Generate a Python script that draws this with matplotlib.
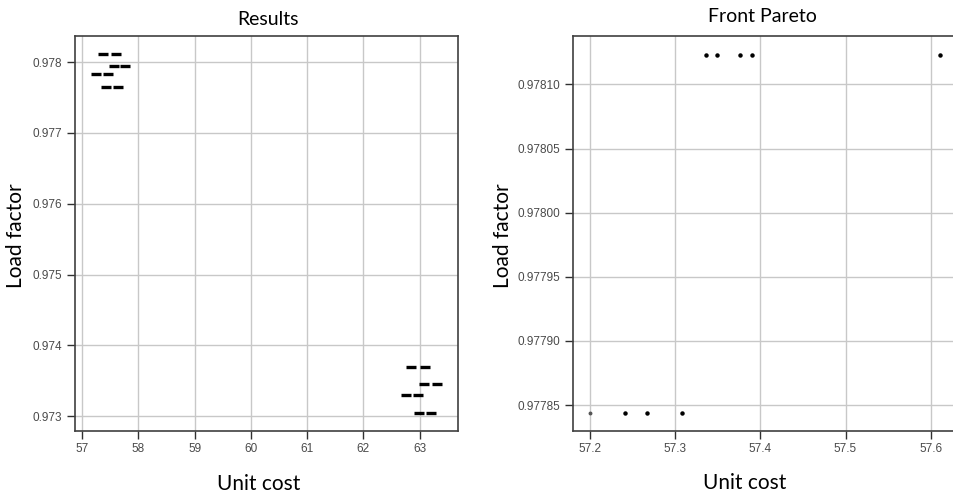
import matplotlib
matplotlib.use('Agg')
import matplotlib.pyplot as plt
from matplotlib.ticker import FormatStrFormatter

# all evaluated solutions (left panel)
results_cost = [57.38, 57.60, 57.56, 57.77, 57.25, 57.46, 57.43, 57.64,
                62.84, 63.09, 63.08, 63.31, 62.75, 62.97, 62.99, 63.20]
results_load = [0.97811, 0.97811, 0.977944, 0.977944, 0.97783, 0.97783, 0.97765, 0.97765,
                0.97369, 0.97369, 0.97345, 0.97345, 0.97330, 0.97330, 0.97304, 0.97304]

# pareto front (right panel)
front_cost = [57.336, 57.349, 57.376, 57.390, 57.611, 57.241, 57.267, 57.308]
front_load = [0.978123, 0.978123, 0.978123, 0.978123, 0.978123, 0.977844, 0.977844, 0.977844]
front_edge_cost = [57.200]
front_edge_load = [0.977844]

left_xticks = [57, 58, 59, 60, 61, 62, 63]
left_yticks = [0.973, 0.974, 0.975, 0.976, 0.977, 0.978]
right_xticks = [57.2, 57.3, 57.4, 57.5, 57.6]
right_yticks = [0.97785, 0.97790, 0.97795, 0.97800, 0.97805, 0.97810]

W, H = 954, 496
fig = plt.figure(figsize=(W / 100, H / 100), dpi=100)

tick_font = 'Liberation Sans'
label_font = 'Lato'
grid_color = '#c8c8c8'
spine_color = '#404040'


def style_axes(ax):
    ax.grid(True, color=grid_color, linewidth=1.0)
    ax.set_axisbelow(True)
    for s in ax.spines.values():
        s.set_color(spine_color)
        s.set_linewidth(1.2)
    ax.tick_params(direction='out', length=6, width=1, color='#303030',
                   labelsize=8.5, labelcolor='#4a4a4a', pad=3)
    for lbl in ax.get_xticklabels() + ax.get_yticklabels():
        lbl.set_fontfamily(tick_font)


ax1 = fig.add_axes([75 / W, 1 - 431 / H, (458 - 75) / W, (431 - 36) / H])
ax1.plot(results_cost, results_load, linestyle='none', marker='_',
         markersize=7.5, markeredgewidth=2.4, color='black')
ax1.set_xlim(56.876, 63.68)
ax1.set_ylim(0.97279, 0.97837)
ax1.set_xticks(left_xticks)
ax1.set_yticks(left_yticks)
ax1.yaxis.set_major_formatter(FormatStrFormatter('%.3f'))
style_axes(ax1)

ax2 = fig.add_axes([573 / W, 1 - 430.7 / H, (956 - 573) / W, (430.7 - 35.7) / H])
ax2.plot(front_cost, front_load, linestyle='none', marker='o',
         markersize=2.2, color='black')
ax2.plot(front_edge_cost, front_edge_load, linestyle='none', marker='o',
         markersize=1.8, color='#555555')
ax2.set_xlim(57.1798, 57.6298)
ax2.set_ylim(0.977830, 0.978138)
ax2.set_xticks(right_xticks)
ax2.set_yticks(right_yticks)
ax2.xaxis.set_major_formatter(FormatStrFormatter('%.1f'))
ax2.yaxis.set_major_formatter(FormatStrFormatter('%.5f'))
style_axes(ax2)
ax2.spines['right'].set_visible(False)

fig.text(268 / W, 1 - 25 / H, 'Results', ha='center', va='baseline',
         fontsize=14, family=label_font)
fig.text(762 / W, 1 - 22 / H, 'Front Pareto', ha='center', va='baseline',
         fontsize=14, family=label_font)
fig.text(259 / W, 1 - 490 / H, 'Unit cost', ha='center', va='baseline',
         fontsize=15, family=label_font)
fig.text(745 / W, 1 - 489 / H, 'Unit cost', ha='center', va='baseline',
         fontsize=15, family=label_font)
fig.text(16 / W, 1 - 236 / H, 'Load factor', ha='center', va='center',
         rotation=90, fontsize=15, family=label_font)
fig.text(503 / W, 1 - 236 / H, 'Load factor', ha='center', va='center',
         rotation=90, fontsize=15, family=label_font)

fig.savefig('out.png', dpi=100)
